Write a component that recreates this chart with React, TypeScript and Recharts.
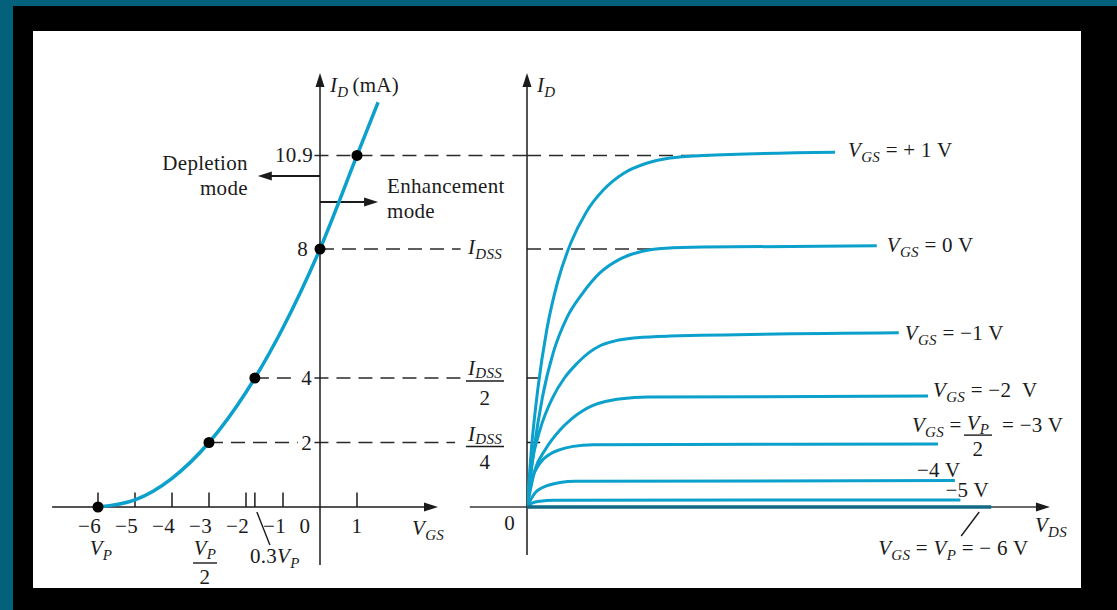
import React from "react";
import { ComposedChart, Line, XAxis, YAxis, ReferenceLine, ReferenceDot } from "recharts";

// ---- Transfer characteristic (left panel): VGS [V] -> ID [mA] ----
const transferVgs = [-6, -5, -4, -3, -2, -1, 0, 1, 1.57];
const transferId = [0, 0.22, 0.89, 2, 3.56, 5.56, 8, 10.9, 12.55];

// highlighted points on the transfer curve
const keyVgs = [-6, -3, -1.76, 0, 1];
const keyId = [0, 2, 4, 8, 10.9];

// VGS axis ticks (0 sits on the ID axis, so it gets no tick mark)
const vgsTickValues = [-6, -5, -4, -3, -2, -1, 1];
const vgsTickLabels = ["−6", "−5", "−4", "−3", "−2", "−1", "1"];
const pinchTick = -1.76; // 0.3 VP

// ID levels marked with dashed guides
const levelIdss = 8;
const levelPlus = 10.9;
const levelHalf = 4;
const levelQuarter = 2;

// ---- Drain characteristics (right panel): VDS [V] -> ID [mA] ----
const vdsP1 = [0, 0.2, 0.5, 0.9, 1.4, 2.0, 2.7, 3.5, 4.4, 5.4, 6.5, 8, 14];
const idP1 = [0, 1.8, 3.7, 5.5, 7.0, 8.2, 9.15, 9.85, 10.35, 10.65, 10.82, 10.9, 11.0];

const vds0 = [0, 0.3, 0.7, 1.2, 1.8, 2.5, 3.3, 4.2, 5.2, 6.3, 8, 15.9];
const id0 = [0, 1.7, 3.4, 4.8, 5.85, 6.6, 7.25, 7.68, 7.92, 8.02, 8.06, 8.1];

const vdsM1 = [0, 0.23, 0.59, 1.18, 1.7, 2.27, 2.8, 3.32, 4.0, 5.0, 6.5, 16.9];
const idM1 = [0, 1.36, 2.39, 3.41, 4.0, 4.45, 4.78, 5.0, 5.15, 5.25, 5.3, 5.4];

const vdsM2 = [0, 0.36, 0.82, 1.5, 2.0, 2.5, 3.0, 3.6, 4.3, 5.5, 18.23];
const idM2 = [0, 1.15, 1.77, 2.39, 2.72, 2.97, 3.15, 3.28, 3.36, 3.41, 3.44];

const vdsM3 = [0, 0.23, 0.59, 1.0, 1.5, 2.1, 3.0, 18.68];
const idM3 = [0, 0.84, 1.36, 1.62, 1.78, 1.88, 1.93, 1.95];

const vdsM4 = [0, 0.36, 0.91, 1.5, 2.2, 19.45];
const idM4 = [0, 0.43, 0.66, 0.76, 0.8, 0.82];

const vdsM5 = [0, 0.23, 0.59, 1.2, 19.7];
const idM5 = [0, 0.12, 0.18, 0.21, 0.22];

const vdsM6 = [0, 21.1];
const idM6 = [0, 0];

// ---- styling ----
const W = 1117;
const H = 610;
const INK = "#1b1b1b";
const CURVE = "#0ca0cc";
const CURVE_DARK = "#116a86";
const FONT = "'Liberation Serif', 'Times New Roman', serif";
const T = { fontFamily: FONT, fontSize: 21, fill: INK, letterSpacing: 0.3 } as const;
const SUB = 15;

const pts = (xs: number[], ys: number[]) => xs.map((v, k) => ({ v, i: ys[k] }));
const last = (a: number[]) => a[a.length - 1];

const drainSets = [
  { key: "p1", vds: vdsP1, id: idP1, color: CURVE },
  { key: "z0", vds: vds0, id: id0, color: CURVE },
  { key: "m1", vds: vdsM1, id: idM1, color: CURVE },
  { key: "m2", vds: vdsM2, id: idM2, color: CURVE },
  { key: "m3", vds: vdsM3, id: idM3, color: CURVE },
  { key: "m4", vds: vdsM4, id: idM4, color: CURVE },
  { key: "m5", vds: vdsM5, id: idM5, color: CURVE },
  { key: "m6", vds: vdsM6, id: idM6, color: CURVE_DARK },
];

// place arbitrary svg content at a data position
function pin(key: string, axis: string, x: number, y: number, draw: (cx: number, cy: number) => React.ReactNode) {
  return (
    <ReferenceDot
      key={key}
      xAxisId={axis}
      yAxisId="i"
      x={x}
      y={y}
      r={1}
      ifOverflow="visible"
      shape={(p: any) => <g>{draw(p.cx, p.cy)}</g>}
    />
  );
}

function seg(key: string, axis: string, x1: number, y1: number, x2: number, y2: number, extra: any = {}) {
  return (
    <ReferenceLine
      key={key}
      xAxisId={axis}
      yAxisId="i"
      segment={[{ x: x1, y: y1 }, { x: x2, y: y2 }]}
      ifOverflow="visible"
      stroke={INK}
      strokeWidth={1.5}
      {...extra}
    />
  );
}

const dashed = { strokeDasharray: "14 8", stroke: "#2a2a2a", strokeWidth: 1.6 };

const arrowRight = (cx: number, cy: number) => (
  <polygon points={`${cx},${cy} ${cx - 14},${cy - 4.5} ${cx - 14},${cy + 4.5}`} fill={INK} />
);
const arrowLeft = (cx: number, cy: number) => (
  <polygon points={`${cx},${cy} ${cx + 14},${cy - 4.5} ${cx + 14},${cy + 4.5}`} fill={INK} />
);
const arrowUp = (cx: number, cy: number) => (
  <polygon points={`${cx},${cy} ${cx - 4.5},${cy + 14} ${cx + 4.5},${cy + 14}`} fill={INK} />
);

const sym = (main: string, sub: string, dy = 5) => [
  <tspan key="m" fontStyle="italic">{main}</tspan>,
  <tspan key="s" fontStyle="italic" fontSize={SUB} dy={dy}>{sub}</tspan>,
];

function frac(cx: number, lineY: number, width: number, num: React.ReactNode, den: string, numGap = 5, denGap = 21) {
  return (
    <g>
      <text x={cx} y={lineY - numGap} textAnchor="middle" {...T}>{num}</text>
      <line x1={cx - width / 2} x2={cx + width / 2} y1={lineY} y2={lineY} stroke={INK} strokeWidth={1.4} />
      <text x={cx} y={lineY + denGap} textAnchor="middle" {...T}>{den}</text>
    </g>
  );
}

const vgsLabel = (rest: string) => (
  <>
    {sym("V", "GS")}
    <tspan dy={-5}>{rest}</tspan>
  </>
);

export default function App() {
  const transfer = pts(transferVgs, transferId);

  return (
    <div style={{ position: "fixed", left: 0, top: 0, width: W, height: H, background: "#04617b", overflow: "hidden" }}>
      <div style={{ position: "absolute", left: 13, top: 6, right: 0, bottom: 0, background: "#000" }} />
      <div style={{ position: "absolute", left: 33, top: 31, width: 1048, height: 557, background: "#fff" }} />
      <div style={{ position: "absolute", left: 0, top: 0 }}>
        <ComposedChart width={W} height={H} margin={{ top: 55.5, right: 0, bottom: 86.875, left: 0 }}>
          <XAxis xAxisId="vgs" type="number" dataKey="v" domain={[-7.5, 3.5]} padding={{ left: 42.5, right: 667.5 }} allowDataOverflow hide />
          <XAxis xAxisId="vds" type="number" dataKey="v" domain={[0, 24]} padding={{ left: 527, right: 62 }} allowDataOverflow hide />
          <YAxis yAxisId="i" type="number" domain={[-0.5, 14]} allowDataOverflow hide />

          {/* dashed guide lines */}
          {seg("d109a", "vgs", -0.15, levelPlus, 5.6, levelPlus, dashed)}
          {seg("d109b", "vds", 0, levelPlus, 8.3, levelPlus, dashed)}
          {seg("d8a", "vgs", 0, levelIdss, 3.8, levelIdss, dashed)}
          {seg("d8b", "vds", 0, levelIdss, 6.0, levelIdss, dashed)}
          {seg("d4a", "vgs", keyVgs[2], levelHalf, -0.6, levelHalf, dashed)}
          {seg("d4b", "vgs", -0.15, levelHalf, 3.8, levelHalf, dashed)}
          {seg("d2a", "vgs", keyVgs[1], levelQuarter, -0.6, levelQuarter, dashed)}
          {seg("d2b", "vgs", -0.15, levelQuarter, 3.65, levelQuarter, dashed)}

          {/* left panel axes */}
          {seg("axL-x", "vgs", -7.24, 0, 3.0, 0)}
          {pin("axL-xa", "vgs", 3.19, 0, arrowRight)}
          {seg("axL-y", "vgs", 0, -1.8, 0, 13.2)}
          {pin("axL-ya", "vgs", 0, 13.46, arrowUp)}
          {vgsTickValues.map((t) => seg(`tk${t}`, "vgs", t, 0, t, 0.45))}
          {seg("tkp", "vgs", pinchTick, 0, pinchTick, 0.45)}

          {/* right panel axes */}
          {seg("axR-x", "vds", -2.6, 0, 23.5, 0, { stroke: "#6a6a6a", strokeWidth: 2 })}
          {pin("axR-xa", "vds", 23.77, 0, arrowRight)}
          {seg("axR-y", "vds", 0, -1.49, 0, 13.2)}
          {pin("axR-ya", "vds", 0, 13.46, arrowUp)}
          {seg("tkR4", "vds", 0, levelHalf, 0.6, levelHalf)}
          {seg("tkR2", "vds", 0, levelQuarter, 0.6, levelQuarter)}

          {/* mode arrows */}
          {seg("depl", "vgs", 0, 10.26, -1.5, 10.26, { strokeWidth: 2 })}
          {pin("deplA", "vgs", -1.68, 10.26, arrowLeft)}
          {seg("enh", "vgs", 0, 9.46, 1.4, 9.46, { strokeWidth: 2 })}
          {pin("enhA", "vgs", 1.57, 9.46, arrowRight)}

          {/* curves */}
          <Line xAxisId="vgs" yAxisId="i" data={transfer} dataKey="i" type="monotone" stroke={CURVE} strokeWidth={3.5} dot={false} isAnimationActive={false} />
          {drainSets.map((s) => (
            <Line
              key={s.key}
              xAxisId="vds"
              yAxisId="i"
              data={pts(s.vds, s.id)}
              dataKey="i"
              type="monotone"
              stroke={s.color}
              strokeWidth={s.key === "m6" ? 3.5 : 3}
              dot={false}
              isAnimationActive={false}
            />
          ))}

          {/* key points */}
          {keyVgs.map((v, k) => (
            <ReferenceDot key={`kp${k}`} xAxisId="vgs" yAxisId="i" x={v} y={keyId[k]} r={5.5} fill="#000" stroke="none" ifOverflow="visible" />
          ))}

          {/* left panel text */}
          {pin("tID", "vgs", 0, 13.46, (cx, cy) => (
            <text x={cx + 10} y={cy + 19} {...T}>
              {sym("I", "D")}
              <tspan dy={-5} dx={4}>(mA)</tspan>
            </text>
          ))}
          {pin("t109", "vgs", 0, levelPlus, (cx, cy) => <text x={cx - 7} y={cy + 7} textAnchor="end" {...T}>10.9</text>)}
          {pin("t8", "vgs", 0, levelIdss, (cx, cy) => <text x={cx - 12} y={cy + 7} textAnchor="end" {...T}>8</text>)}
          {pin("t4", "vgs", 0, levelHalf, (cx, cy) => <text x={cx - 8} y={cy + 7} textAnchor="end" {...T}>4</text>)}
          {pin("t2", "vgs", 0, levelQuarter, (cx, cy) => <text x={cx - 8} y={cy + 7} textAnchor="end" {...T}>2</text>)}
          {pin("tDep", "vgs", -1.68, 10.26, (cx, cy) => (
            <g>
              <text x={cx - 10} y={cy - 6} textAnchor="end" {...T}>Depletion</text>
              <text x={cx - 10} y={cy + 19} textAnchor="end" {...T}>mode</text>
            </g>
          ))}
          {pin("tEnh", "vgs", 1.57, 9.46, (cx, cy) => (
            <g>
              <text x={cx + 9} y={cy - 9} {...T}>Enhancement</text>
              <text x={cx + 9} y={cy + 16} {...T}>mode</text>
            </g>
          ))}
          {vgsTickValues.map((t, k) =>
            pin(`tl${t}`, "vgs", t, 0, (cx, cy) => (
              <text x={t < 0 ? cx + 3 : cx} y={cy + 26} textAnchor={t < 0 ? "end" : "middle"} {...T}>{vgsTickLabels[k]}</text>
            ))
          )}
          {pin("tl0", "vgs", 0, 0, (cx, cy) => <text x={cx - 15} y={cy + 26} textAnchor="middle" {...T}>0</text>)}
          {pin("tVGS", "vgs", 3.19, 0, (cx, cy) => <text x={cx - 26} y={cy + 28} {...T}>{sym("V", "GS")}</text>)}
          {pin("tVP", "vgs", keyVgs[0], 0, (cx, cy) => <text x={cx + 3} y={cy + 48} textAnchor="middle" {...T}>{sym("V", "P")}</text>)}
          {pin("tVP2", "vgs", keyVgs[1], 0, (cx, cy) => frac(cx - 4, cy + 56, 24, <>{sym("V", "P", 4)}</>, "2", 8, 21))}
          {pin("t03", "vgs", pinchTick, 0, (cx, cy) => (
            <g>
              <line x1={cx + 2} y1={cy + 5} x2={cx + 15} y2={cy + 38} stroke={INK} strokeWidth={1.4} />
              <text x={cx - 5} y={cy + 56} {...T}>
                0.3
                {sym("V", "P")}
              </text>
            </g>
          ))}

          {/* right panel text */}
          {pin("tID2", "vds", 0, 13.46, (cx, cy) => <text x={cx + 10} y={cy + 19} {...T}>{sym("I", "D")}</text>)}
          {pin("tO", "vds", 0, 0, (cx, cy) => <text x={cx - 12} y={cy + 23} textAnchor="end" {...T}>0</text>)}
          {pin("tVDS", "vds", 23.77, 0, (cx, cy) => <text x={cx - 15} y={cy + 25} {...T}>{sym("V", "DS")}</text>)}
          {pin("tIdss", "vds", 0, levelIdss, (cx, cy) => <text x={cx - 59} y={cy + 5} {...T}>{sym("I", "DSS")}</text>)}
          {pin("tIdss2", "vds", 0, levelHalf, (cx, cy) => frac(cx - 42, cy + 3, 38, <>{sym("I", "DSS", 3)}</>, "2", 6, 24))}
          {pin("tIdss4", "vds", 0, levelQuarter, (cx, cy) => frac(cx - 42, cy + 4, 38, <>{sym("I", "DSS", 3)}</>, "4", 6, 22))}

          {/* curve labels */}
          {pin("lp1", "vds", last(vdsP1), last(idP1), (cx, cy) => <text x={cx + 13} y={cy + 5} {...T}>{vgsLabel(" = + 1 V")}</text>)}
          {pin("l0", "vds", last(vds0), last(id0), (cx, cy) => <text x={cx + 10} y={cy + 6} {...T}>{vgsLabel(" = 0 V")}</text>)}
          {pin("lm1", "vds", last(vdsM1), last(idM1), (cx, cy) => <text x={cx + 6} y={cy + 7} {...T}>{vgsLabel(" = −1 V")}</text>)}
          {pin("lm2", "vds", last(vdsM2), last(idM2), (cx, cy) => (
            <text x={cx + 5} y={cy + 1} {...T} style={{ whiteSpace: "pre" }}>{vgsLabel(" = −2  V")}</text>
          ))}
          {pin("lm3", "vds", last(vdsM3), last(idM3), (cx, cy) => (
            <g>
              <text x={cx - 26} y={cy - 12} {...T}>{vgsLabel(" =")}</text>
              {frac(cx + 40, cy - 9, 28, <>{sym("V", "P", 4)}</>, "2", 5, 21)}
              <text x={cx + 64} y={cy - 12} {...T}>= −3 V</text>
            </g>
          ))}
          {pin("lm4", "vds", last(vdsM4), last(idM4), (cx, cy) => <text x={cx - 38} y={cy - 4} {...T}>−4 V</text>)}
          {pin("lm5", "vds", last(vdsM5), last(idM5), (cx, cy) => <text x={cx - 15} y={cy - 3} {...T}>−5 V</text>)}
          {pin("lm6", "vds", last(vdsM6), last(idM6), (cx, cy) => (
            <g>
              <line x1={cx - 12} y1={cy + 5} x2={cx - 30} y2={cy + 29} stroke={INK} strokeWidth={1.4} />
              <text x={cx - 113} y={cy + 48} {...T}>
                {sym("V", "GS")}
                <tspan dy={-5}>{" = "}</tspan>
                <tspan fontStyle="italic">V</tspan>
                <tspan fontStyle="italic" fontSize={SUB} dy={5}>P</tspan>
                <tspan dy={-5}>{" = − 6 V"}</tspan>
              </text>
            </g>
          ))}
        </ComposedChart>
      </div>
    </div>
  );
}
